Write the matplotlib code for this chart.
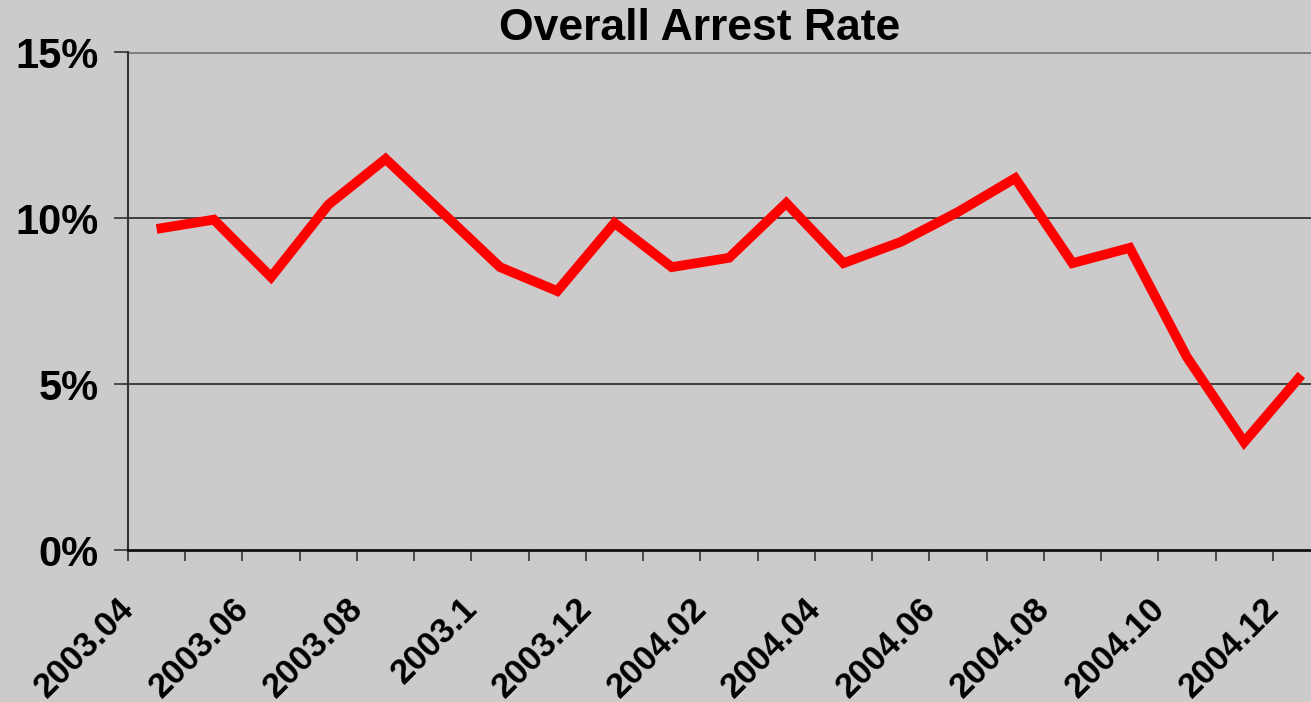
import matplotlib.pyplot as plt
import numpy as np
import matplotlib
from matplotlib.transforms import ScaledTranslation

matplotlib.rcParams['font.family'] = ['Liberation Sans', 'DejaVu Sans']
matplotlib.rcParams['font.weight'] = 'bold'

# monthly labels, 2003.04 .. 2004.12 (Excel dropped the trailing zero of 2003.10)
months = ['2003.04', '2003.05', '2003.06', '2003.07', '2003.08', '2003.09',
          '2003.1', '2003.11', '2003.12', '2004.01', '2004.02', '2004.03',
          '2004.04', '2004.05', '2004.06', '2004.07', '2004.08', '2004.09',
          '2004.10', '2004.11', '2004.12']
# arrest rate in percent
arrest_rate = [9.67, 9.95, 8.22, 10.4, 11.78, 10.15, 8.52, 7.8, 9.85, 8.52,
               8.8, 10.45, 8.64, 9.28, 10.18, 11.2, 8.64, 9.1, 5.81, 3.25, 5.27]
y_ticks = [0, 5, 10, 15]

bg = '#cdcacb'
fig = plt.figure(figsize=(13.11, 7.02), dpi=100, facecolor=bg)
# plot area runs a little past the right edge of the picture
ax = fig.add_axes([128 / 1311, 152 / 702, 1202 / 1311, 498 / 702])
ax.set_facecolor(bg)

x = np.arange(len(months))
ax.plot(x, arrest_rate, color='#ff0000', linewidth=7, solid_joinstyle='miter',
        solid_capstyle='butt', zorder=3)

ax.set_xlim(-0.5, len(months) - 0.5)
ax.set_ylim(0, 15)

# y axis
ax.set_yticks(y_ticks)
ax.set_yticklabels([f'{v}%' for v in y_ticks], fontsize=30, fontweight='bold')
ax.tick_params(axis='y', length=10, width=1.2, pad=11, color='#333333')
for v in y_ticks[1:-1]:
    ax.axhline(v, color='#333333', linewidth=1.3, zorder=1)
ax.axhline(y_ticks[-1], color='#808080', linewidth=2.2, zorder=1)

# x axis: tick marks at month boundaries, labels every two months
ax.set_xticks(np.arange(-0.5, len(months), 1.0))
ax.set_xticklabels([])
ax.set_xticks(x[::2], minor=True)
ax.set_xticklabels(months[::2], minor=True, rotation=45, ha='right',
                   fontsize=25, fontweight='bold')
ax.tick_params(axis='x', which='major', length=8, width=1.2, color='#333333')
ax.tick_params(axis='x', which='minor', length=0, pad=30)
shift = ScaledTranslation(-16 / 100, 0, fig.dpi_scale_trans)
for lab in ax.get_xticklabels(minor=True):
    lab.set_transform(lab.get_transform() + shift)

for side in ['top', 'right']:
    ax.spines[side].set_visible(False)
ax.spines['left'].set_color('#333333')
ax.spines['left'].set_linewidth(1.5)
ax.spines['bottom'].set_color('#111111')
ax.spines['bottom'].set_linewidth(2)

fig.text(700 / 1311, 1 - 28 / 702, 'Overall Arrest Rate', ha='center', va='center',
         fontsize=32, fontweight='bold')

plt.savefig('out.png', dpi=100, facecolor=bg)
plt.close()
